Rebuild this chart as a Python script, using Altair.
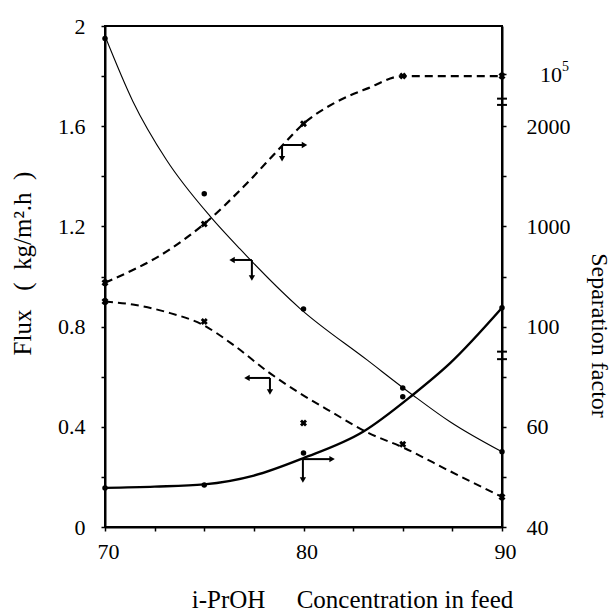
import altair as alt
import pandas as pd

FONT = "Liberation Serif"

# ---------------- measured markers ----------------
conc = [70, 75, 80, 85, 90]
flux_total = [1.95, 1.33, 0.87, 0.555, 0.30]      # thin solid curve (left axis)
sep_rise = [0.975, 1.21, 1.61, 1.80, 1.80]        # dashed rising curve (right axis)
flux_fall = [0.90, 0.82, 0.415, 0.33, 0.12]       # dashed falling curve (left axis)
sep_low = [0.156, 0.168, 0.295, 0.52, 0.875]      # thick solid curve (right axis)

# ---------------- curves as drawn ----------------
a_x = [70, 71.4, 73.1, 75.3, 76.8, 79.8, 83.2, 85.5, 87.4, 90]
a_y = [1.96, 1.70, 1.465, 1.24, 1.11, 0.874, 0.667, 0.527, 0.419, 0.30]
b_x = [70, 73.3, 75, 77, 78.9, 80, 81.5, 83.2, 85, 90]
b_y = [0.975, 1.11, 1.21, 1.36, 1.52, 1.61, 1.69, 1.75, 1.80, 1.80]
c_x = [70, 71.4, 73.1, 74.9, 76.5, 78.2, 79.8, 81.5, 83.2, 85, 87.4, 90]
c_y = [0.90, 0.888, 0.858, 0.808, 0.725, 0.62, 0.535, 0.455, 0.378, 0.318, 0.222, 0.12]
d_x = [70, 72.5, 75, 77.5, 80, 83, 85.5, 87.4, 90]
d_y = [0.156, 0.161, 0.17, 0.205, 0.275, 0.38, 0.527, 0.655, 0.875]

# ---------------- axis annotation arrows ----------------
arrow_corner_x = [77.4, 78.92, 78.31, 79.97]
arrow_corner_y = [1.066, 1.525, 0.595, 0.271]
arrow_end_x = [76.4, 80.05, 77.15, 81.44]
arrow_end_y = [0.994, 1.47, 0.539, 0.188]

# ---------------- ticks ----------------
x_ticks = [70, 72.5, 75, 77.5, 80, 82.5, 85, 87.5, 90]
x_labels = [70, 80, 90]
flux_ticks = [0, 0.2, 0.4, 0.6, 0.8, 1.0, 1.2, 1.4, 1.6, 1.8, 2.0]
sep_ticks = [0, 0.2, 0.4, 0.6, 0.8, 1.0, 1.2, 1.4, 1.6, 1.81]
sep_label_pos = [0, 0.4, 0.8, 1.2, 1.6]
sep_label_txt = ["40", "60", "100", "1000", "2000"]
sep_top_pos = 1.81          # position of the 10^5 label
sep_top_base = "10"
sep_top_exp = "5"
break_y = [0.67, 0.70, 1.685, 1.71]

x_scale = alt.Scale(domain=[70, 90], nice=False, zero=False)
y_scale = alt.Scale(domain=[0, 2], nice=False, zero=False)

common = dict(labelFont=FONT, labelFontSize=22, labelColor="black",
              titleFont=FONT, titleFontWeight="normal", titleColor="black",
              tickSize=4, labelFlush=False, grid=False,
              domainColor="black", domainWidth=2, tickColor="black", tickWidth=1.5)

x_lab_expr = " || ".join(f"datum.value == {v}" for v in x_labels)
x_axis = alt.Axis(values=x_ticks, labelExpr=f"({x_lab_expr}) ? datum.value : ''",
                  title="i-PrOH\u00a0\u00a0\u00a0\u00a0\u00a0Concentration in feed",
                  titleX=247, titleY=72, titleBaseline="middle", titleAnchor="middle",
                  titleFontSize=25, labelPadding=10, labelOffset=3, **common)

y_axis = alt.Axis(values=flux_ticks,
                  labelExpr="round(datum.value*10) % 4 == 0 ? format(datum.value, '~g') : ''",
                  title="Flux\u00a0\u00a0\u00a0(\u00a0\u00a0kg/m\u00b2.h\u00a0\u00a0)",
                  titleX=-83, titleY=237, titleBaseline="middle", titleAngle=-90,
                  titleAnchor="middle", titleFontSize=25, labelPadding=16, **common)

sep_expr = "".join(
    f"abs(datum.value - {p}) < 0.001 ? '{t}' : " for p, t in zip(sep_label_pos, sep_label_txt)
) + "''"
y_axis_right = alt.Axis(orient="right", values=sep_ticks, labelExpr=sep_expr,
                        title="Separation factor", titleX=96, titleY=309,
                        titleBaseline="middle", titleAngle=90, titleAnchor="middle",
                        titleFontSize=24, labelPadding=20, labelAlign="left", **common)

X = lambda f="x": alt.X(f"{f}:Q", scale=x_scale, axis=x_axis)
Y = lambda f="y": alt.Y(f"{f}:Q", scale=y_scale, axis=y_axis)


def line_layer(xs, ys, width, dash=None):
    df = pd.DataFrame({"x": xs, "y": ys})
    kw = dict(color="black", strokeWidth=width, interpolate="monotone")
    if dash:
        kw["strokeDash"] = dash
    return alt.Chart(df).mark_line(**kw).encode(x=X(), y=Y())


def point_layer(ys, shape, size, angle=0):
    df = pd.DataFrame({"x": conc, "y": ys})
    return alt.Chart(df).mark_point(shape=shape, filled=True, color="black",
                                    size=size, opacity=1, angle=angle).encode(x=X(), y=Y())


layers = [
    line_layer(a_x, a_y, 1.1),
    line_layer(b_x, b_y, 2.2, [8, 5]),
    line_layer(c_x, c_y, 2.0, [8, 5]),
    line_layer(d_x, d_y, 2.4),
    point_layer(flux_total, "circle", 30),
    point_layer(sep_rise, "cross", 50, 45),
    point_layer(flux_fall, "cross", 50, 45),
    point_layer(sep_low, "circle", 30),
]

# arrows
h_df = pd.DataFrame({"x": arrow_corner_x, "x2": arrow_end_x, "y": arrow_corner_y})
v_df = pd.DataFrame({"x": arrow_corner_x, "y": arrow_corner_y, "y2": arrow_end_y})
heads = pd.DataFrame({
    "x": arrow_end_x + arrow_corner_x,
    "y": arrow_corner_y + arrow_end_y,
    "shape": ["triangle-left" if e < c else "triangle-right"
              for e, c in zip(arrow_end_x, arrow_corner_x)] + ["triangle-down"] * 4,
})
layers.append(alt.Chart(h_df).mark_rule(color="black", strokeWidth=2).encode(
    x=X(), x2="x2:Q", y=Y()))
layers.append(alt.Chart(v_df).mark_rule(color="black", strokeWidth=2).encode(
    x=X(), y=Y(), y2="y2:Q"))
layers.append(alt.Chart(heads).mark_point(filled=True, color="black", size=40, opacity=1).encode(
    x=X(), y=Y(), shape=alt.Shape("shape:N", scale=None)))

# axis break marks on the right axis
brk_df = pd.DataFrame({"x": [89.75] * len(break_y), "x2": [90.25] * len(break_y), "y": break_y})
layers.append(alt.Chart(brk_df).mark_rule(color="black", strokeWidth=2).encode(
    x=X(), x2="x2:Q", y=Y()))

# 10^5 label with true superscript
top_df = pd.DataFrame({"x": [90], "y": [sep_top_pos], "base": [sep_top_base], "exp": [sep_top_exp]})
layers.append(alt.Chart(top_df).mark_text(font=FONT, fontSize=22, align="left", baseline="middle",
                                          dx=38, dy=1, clip=False, color="black").encode(
    x=X(), y=Y(), text="base:N"))
layers.append(alt.Chart(top_df).mark_text(font=FONT, fontSize=14, align="left", baseline="middle",
                                          dx=60, dy=-7, clip=False, color="black").encode(
    x=X(), y=Y(), text="exp:N"))

left = alt.layer(*layers)

right = alt.Chart(pd.DataFrame({"x": conc, "y": sep_rise})).mark_point(opacity=0).encode(
    x=X(), y=alt.Y("y:Q", scale=y_scale, axis=y_axis_right))

chart = alt.layer(left, right).resolve_scale(y="independent").properties(
    width=397, height=501,
    autosize=alt.AutoSizeParams(type="none"),
    padding={"left": 105, "top": 26, "right": 111, "bottom": 86},
    background="white",
).configure(font=FONT).configure_view(stroke="black", strokeWidth=2).configure_axis(
    domainColor="black", domainWidth=2, tickColor="black", tickWidth=1.5,
    grid=False, labelFont=FONT, labelFontSize=22, labelColor="black",
    titleFont=FONT, titleFontSize=25, titleFontWeight="normal", titleColor="black",
)

chart.save("out.html", embed_options={"renderer": "svg", "actions": False})
